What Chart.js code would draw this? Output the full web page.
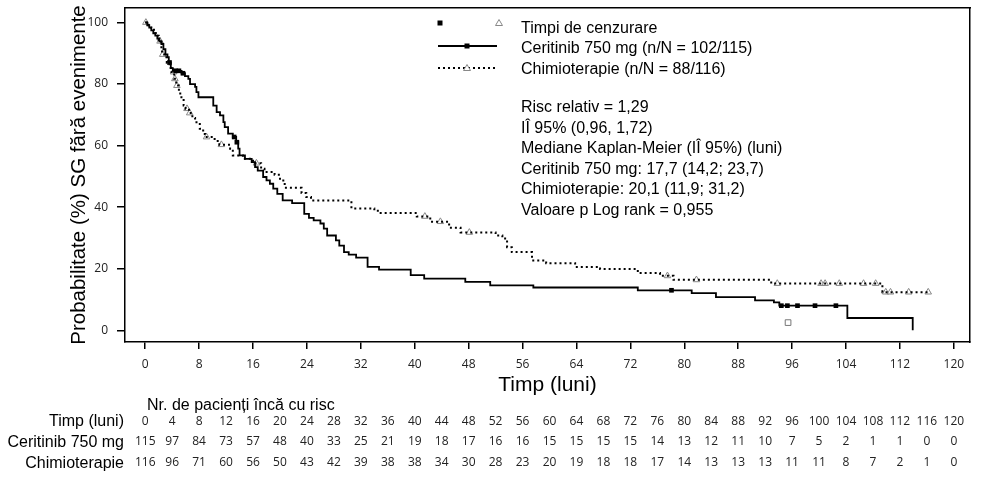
<!DOCTYPE html>
<html>
<head>
<meta charset="utf-8">
<script src="https://cdn.jsdelivr.net/npm/chart.js@4.4.1/dist/chart.umd.min.js"></script>
<style>
  html, body { margin: 0; padding: 0; background: #fff; }
  #wrap { position: relative; width: 981px; height: 481px; overflow: hidden;
          font-family: "Liberation Sans", Arial, sans-serif; color: #000; }
  #c { position: absolute; left: 0; top: 0; }
  .t { position: absolute; white-space: nowrap; font-size: 16px; line-height: 20px; }
  .lbl { position: absolute; white-space: nowrap; font-size: 16px; line-height: 20px; text-align: right; right: 857px; }
  .num { position: absolute; white-space: nowrap; font-family: "Open Sans", sans-serif; font-size: 12px;
         line-height: 16px; color: #222; transform: translateX(-50%); }
  svg { position: absolute; left: 0; top: 0; }
</style>
</head>
<body>
<div id="wrap">
  <canvas id="c" width="981" height="481"></canvas>
  <svg width="981" height="481">
    <rect x="437.5" y="20.5" width="5" height="5" fill="#000"/>
    <polygon points="499,19.5 502.5,25.5 495.5,25.5" fill="none" stroke="#888" stroke-width="1"/>
    <line x1="438" y1="46" x2="497" y2="46" stroke="#000" stroke-width="1.8"/>
    <rect x="464.5" y="43.5" width="5" height="5" fill="#000"/>
    <line x1="438" y1="68" x2="497" y2="68" stroke="#000" stroke-width="2" stroke-dasharray="2 3"/>
    <polygon points="467,64.5 470.5,70.5 463.5,70.5" fill="#fff" stroke="#888" stroke-width="1"/>
  </svg>
  <div class="t" style="left:521px; top:18px;">Timpi de cenzurare</div>
  <div class="t" style="left:521px; top:38px;">Ceritinib 750 mg (n/N = 102/115)</div>
  <div class="t" style="left:521px; top:59px;">Chimioterapie (n/N = 88/116)</div>
  <div class="t" style="left:521px; top:97px;">Risc relativ = 1,29</div>
  <div class="t" style="left:521px; top:117.6px;">IÎ 95% (0,96, 1,72)</div>
  <div class="t" style="left:521px; top:138.2px;">Mediane Kaplan-Meier (IÎ 95%) (luni)</div>
  <div class="t" style="left:521px; top:158.8px;">Ceritinib 750 mg: 17,7 (14,2; 23,7)</div>
  <div class="t" style="left:521px; top:179.4px;">Chimioterapie: 20,1 (11,9; 31,2)</div>
  <div class="t" style="left:521px; top:200px;">Valoare p Log rank = 0,955</div>

  <div class="t" style="left:147px; top:395px;">Nr. de pacienți încă cu risc</div>
  <div class="lbl" style="top:411px;">Timp (luni)</div>
  <div class="lbl" style="top:432px;">Ceritinib 750 mg</div>
  <div class="lbl" style="top:453px;">Chimioterapie</div>
  <div id="risk"></div>
</div>
<script>
// axis ticks
const xTicks = [0, 8, 16, 24, 32, 40, 48, 56, 64, 72, 80, 88, 96, 104, 112, 120];
const yTicks = [0, 20, 40, 60, 80, 100];

// number at risk table
const riskTimes = [0, 4, 8, 12, 16, 20, 24, 28, 32, 36, 40, 44, 48, 52, 56, 60, 64, 68, 72, 76, 80, 84, 88, 92, 96, 100, 104, 108, 112, 116, 120];
const riskCeritinib = [115, 97, 84, 73, 57, 48, 40, 33, 25, 21, 19, 18, 17, 16, 16, 15, 15, 15, 15, 14, 13, 12, 11, 10, 7, 5, 2, 1, 1, 0, 0];
const riskChemo = [116, 96, 71, 60, 56, 50, 43, 42, 39, 38, 38, 34, 30, 28, 23, 20, 19, 18, 18, 17, 14, 13, 13, 13, 11, 11, 8, 7, 2, 1, 0];

// Kaplan-Meier steps (months, % event free)
const ceritinibTime = [0, 0.3, 0.6, 0.9, 1.2, 1.5, 1.8, 2.1, 2.4, 2.7, 3.0, 3.3, 3.5, 3.8, 4.1, 5.4, 5.9, 6.4, 6.65, 7.4, 7.6, 7.9,
  10.1, 10.6, 11.1, 11.6, 11.8, 12.3, 13.0, 13.5, 13.8, 14.0, 14.8, 15.8, 16.3, 16.7, 17.5, 18.0, 18.5, 19.0, 19.6, 20.4, 21.8,
  23.6, 24.3, 25.0, 26.0, 26.5, 27.0, 28.3, 28.8, 29.5, 30.2, 31.3, 33.0, 34.7, 39.4, 41.4, 47.5, 51.2, 57.6, 73.1, 81.1, 84.7,
  90.5, 93.3, 94.1, 104.2, 113.9];
const ceritinibSurv = [100, 99.1, 98.3, 97.4, 96.5, 95.7, 94.8, 93.9, 93.0, 91.3, 89.6, 88.7, 87.0, 85.2, 84.3, 83.5, 82.6, 81.7, 80.0, 79.1, 77.4, 75.7,
  73.0, 70.9, 69.8, 67.6, 66.0, 63.9, 62.8, 61.1, 59.0, 56.8, 55.7, 54.6, 53.0, 51.9, 49.8, 48.7, 47.6, 46.0, 44.3, 42.2, 41.3,
  37.8, 36.5, 35.7, 34.7, 33.0, 30.8, 29.2, 27.5, 25.4, 24.6, 23.6, 20.6, 19.7, 17.9, 16.8, 15.7, 14.6, 13.9, 13.0, 12.1, 10.8,
  9.7, 9.1, 8.0, 4.0, 0];
const ceritinibCensorTime = [3.6, 4.5, 5.0, 5.6, 13.2, 13.6, 78.1, 94.4, 95.3, 96.8, 99.4, 102.5];
const ceritinibCensorSurv = [87.0, 84.3, 84.3, 83.5, 62.8, 61.1, 13.0, 8.0, 8.0, 8.0, 8.0, 8.0];

const chemoTime = [0, 0.5, 0.9, 1.3, 1.6, 2.0, 2.4, 2.5, 2.9, 3.2, 3.6, 3.9, 4.3, 4.6, 5.0, 5.2, 5.7, 6.0, 6.5, 7.0, 7.4, 8.1, 8.6, 8.9,
  10.3, 11.0, 12.6, 13.0, 14.5, 16.0, 17.2, 17.7, 19.2, 20.0, 20.7, 23.2, 23.9, 24.6, 30.6, 34.0, 34.7, 40.3, 42.3, 45.1, 46.8,
  52.0, 53.0, 53.7, 54.4, 57.4, 59.5, 63.8, 67.5, 73.1, 76.4, 78.4, 92.9, 109.4, 116.2];
const chemoSurv = [100, 99.1, 98.3, 96.5, 95.7, 93.9, 91.3, 89.6, 88.7, 86.9, 85.2, 83.9, 81.7, 79.5, 77.6, 75.7, 73.0, 72.0, 70.6, 69.0, 67.6, 65.5, 63.8, 62.8,
  61.5, 60.3, 59.0, 56.8, 55.7, 54.3, 52.5, 51.4, 50.5, 48.7, 46.3, 44.6, 43.3, 42.2, 39.6, 38.8, 38.1, 37.0, 35.3, 33.3, 31.8,
  30.8, 29.8, 27.0, 25.4, 22.7, 21.8, 20.6, 19.9, 18.6, 17.7, 16.4, 15.2, 12.4, 12.4];
const chemoCensorTime = [0.1, 2.2, 2.6, 4.2, 4.4, 4.7, 6.2, 6.6, 9.1, 11.3, 16.5, 41.5, 43.8, 48.1, 77.5, 81.8, 93.8,
  100.3, 100.9, 103.0, 106.6, 108.4, 109.9, 110.6, 113.3, 116.2];
const chemoCensorSurv = [100, 93.9, 89.6, 83.9, 81.7, 79.5, 72.0, 70.6, 62.8, 60.3, 54.3, 37.0, 35.3, 31.8, 17.7, 16.4, 15.2,
  15.2, 15.2, 15.2, 15.2, 15.2, 12.4, 12.4, 12.4, 12.4];

// stray open square near the bottom of the plot
const strayTime = [95.4];
const straySurv = [2.5];

function pts(xs, ys) { return xs.map((x, i) => ({ x, y: ys[i] })); }

const tickFont = { family: 'Open Sans', size: 12 };
const xTitleFont = { family: 'Liberation Sans', size: 21 };
const yTitleFont = { family: 'Liberation Sans', size: 20.5 };

const chart = new Chart(document.getElementById('c'), {
  type: 'line',
  data: {
    datasets: [
      { data: pts(ceritinibTime, ceritinibSurv), stepped: true, borderColor: '#000', borderWidth: 1.8, pointRadius: 0, fill: false },
      { data: pts(chemoTime, chemoSurv), stepped: true, borderColor: '#000', borderWidth: 2, borderDash: [2, 3], pointRadius: 0, fill: false },
      { data: pts(ceritinibCensorTime, ceritinibCensorSurv), showLine: false, pointStyle: 'rect', pointRadius: 3.3,
        backgroundColor: '#000', borderColor: '#000', borderWidth: 0 },
      { data: pts(chemoCensorTime, chemoCensorSurv), showLine: false, pointStyle: 'triangle', pointRadius: 3.8,
        backgroundColor: 'rgba(255,255,255,0.6)', borderColor: '#888', borderWidth: 1 },
      { data: pts(strayTime, straySurv), showLine: false, pointStyle: 'rect', pointRadius: 4,
        backgroundColor: '#fff', borderColor: '#777', borderWidth: 1 },
    ]
  },
  options: {
    responsive: false,
    animation: false,
    layout: { padding: 0 },
    plugins: { legend: { display: false }, tooltip: { enabled: false } },
    scales: {
      x: {
        type: 'linear', position: 'bottom', min: -3, max: 122.4,
        afterBuildTicks: (s) => { s.ticks = xTicks.map(v => ({ value: v })); },
        afterFit: (s) => { s.height = 139; s.paddingLeft = 0; s.paddingRight = 0; },
        grid: { drawOnChartArea: false, drawTicks: true, tickLength: 7, color: '#000', lineWidth: 1.5 },
        border: { display: true, color: '#000', width: 1.5 },
        ticks: { padding: 8, color: '#222', font: tickFont, maxRotation: 0, autoSkip: false },
        title: { display: true, text: 'Timp (luni)', color: '#000', font: xTitleFont, padding: { top: 0, bottom: 83 } }
      },
      xTop: {
        type: 'linear', position: 'top', min: -3, max: 122.4,
        afterFit: (s) => { s.height = 8; s.paddingLeft = 0; s.paddingRight = 0; },
        grid: { display: false, drawTicks: false },
        border: { display: true, color: '#000', width: 1.5 },
        ticks: { display: false }
      },
      y: {
        type: 'linear', position: 'left', min: -3.8, max: 104.7,
        afterBuildTicks: (s) => { s.ticks = yTicks.map(v => ({ value: v })); },
        afterFit: (s) => { s.width = 125; s.paddingTop = 0; s.paddingBottom = 0; },
        grid: { drawOnChartArea: false, drawTicks: true, tickLength: 8, color: '#000', lineWidth: 1.5 },
        border: { display: true, color: '#000', width: 1.5 },
        ticks: { padding: 9, color: '#222', font: tickFont },
        title: { display: true, text: 'Probabilitate (%) SG fără evenimente', color: '#000', font: yTitleFont, padding: { top: 67, bottom: 0 } }
      },
      yRight: {
        type: 'linear', position: 'right', min: -3.8, max: 104.7,
        afterFit: (s) => { s.width = 11; s.paddingTop = 0; s.paddingBottom = 0; },
        grid: { display: false, drawTicks: false },
        border: { display: true, color: '#000', width: 1.5 },
        ticks: { display: false }
      }
    }
  }
});

// risk table numbers placed on the x scale
const risk = document.getElementById('risk');
const rows = [[riskTimes, 412.6], [riskCeritinib, 433.3], [riskChemo, 454.3]];
rows.forEach(([vals, top]) => {
  vals.forEach((v, i) => {
    const d = document.createElement('div');
    d.className = 'num';
    d.style.left = chart.scales.x.getPixelForValue(riskTimes[i]) + 'px';
    d.style.top = top + 'px';
    d.textContent = v;
    risk.appendChild(d);
  });
});
</script>
</body>
</html>
